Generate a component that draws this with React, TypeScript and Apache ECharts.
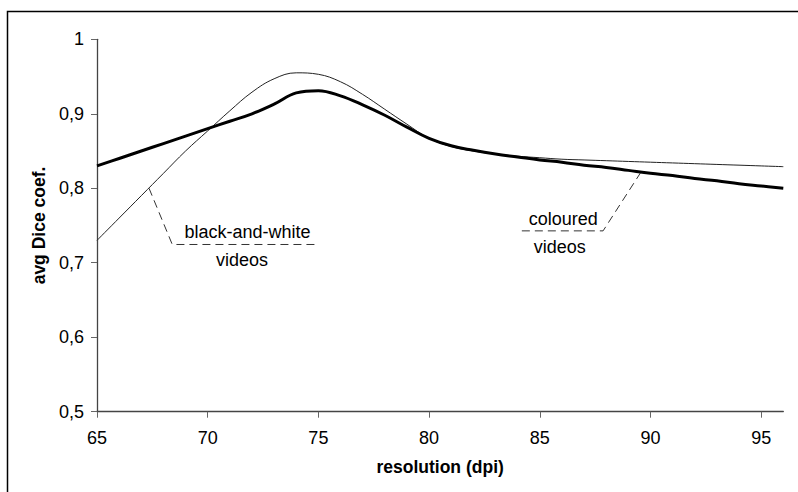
import React, { useEffect, useRef } from "react";
import * as echarts from "echarts";

const resolution = [65, 66, 67, 68, 69, 70, 71, 72, 73, 74, 75, 76, 77, 78, 79, 80, 81, 82, 83, 84, 85, 86, 87, 88, 89, 90, 91, 92, 93, 94, 95, 96];
const blackAndWhite = [0.73, 0.76, 0.79, 0.82, 0.85, 0.877, 0.904, 0.929, 0.947, 0.955, 0.953, 0.943, 0.926, 0.906, 0.886, 0.867, 0.856, 0.85, 0.846, 0.843, 0.841, 0.839, 0.838, 0.837, 0.836, 0.835, 0.834, 0.833, 0.832, 0.831, 0.83, 0.829];
const coloured = [0.83, 0.84, 0.85, 0.86, 0.87, 0.88, 0.89, 0.9, 0.913, 0.928, 0.931, 0.924, 0.912, 0.898, 0.882, 0.867, 0.857, 0.851, 0.846, 0.842, 0.838, 0.835, 0.831, 0.828, 0.824, 0.82, 0.817, 0.813, 0.81, 0.806, 0.803, 0.8];
const xTicks = [65, 70, 75, 80, 85, 90, 95];
const yTicks = [0.5, 0.6, 0.7, 0.8, 0.9, 1];

// annotation anchors in data coordinates
const bwLeader: [number, number][] = [[67.35, 0.8], [68.4, 0.7245], [74.85, 0.7245]];
const colLeader: [number, number][] = [[84.19, 0.7428], [87.86, 0.7428], [89.54, 0.8203]];
const bwText1: [number, number] = [71.8, 0.7415];
const bwText2: [number, number] = [71.55, 0.7035];
const colText1: [number, number] = [86.06, 0.7585];
const colText2: [number, number] = [85.9, 0.721];

const FONT = "'Liberation Sans', Arial, sans-serif";

export default function App() {
  const ref = useRef<HTMLDivElement>(null);
  useEffect(() => {
    if (!ref.current) return;
    const chart = echarts.init(ref.current, null, { renderer: "svg" });
    chart.setOption({
      animation: false,
      backgroundColor: "#fff",
      textStyle: { fontFamily: FONT },
      grid: { left: 97, top: 39.3, right: 14.7, bottom: 80.3, containLabel: false },
      xAxis: {
        type: "value",
        min: 65,
        max: 96,
        interval: 5,
        name: "resolution (dpi)",
        nameLocation: "middle",
        nameGap: 46,
        nameTextStyle: { fontFamily: FONT, fontWeight: "bold", fontSize: 17.5, color: "#000" },
        axisLine: { show: true, lineStyle: { color: "#444", width: 1.3 } },
        axisTick: { show: true, length: 6, lineStyle: { color: "#666" }, customValues: xTicks },
        axisLabel: { fontFamily: FONT, fontSize: 18, color: "#000", margin: 17, customValues: xTicks },
        splitLine: { show: false },
      },
      yAxis: {
        type: "value",
        min: 0.5,
        max: 1,
        interval: 0.1,
        name: "avg Dice coef.",
        nameLocation: "middle",
        nameGap: 48,
        nameRotate: 90,
        nameTextStyle: { fontFamily: FONT, fontWeight: "bold", fontSize: 17.5, color: "#000" },
        axisLine: { show: true, lineStyle: { color: "#444", width: 1.3 } },
        axisTick: { show: true, length: 6, lineStyle: { color: "#666" }, customValues: yTicks },
        axisLabel: {
          fontFamily: FONT,
          fontSize: 18,
          color: "#000",
          margin: 13,
          customValues: yTicks,
          formatter: (v: number) => (Math.abs(v - 1) < 1e-9 ? "1" : v.toFixed(1).replace(".", ",")),
        },
        splitLine: { show: false },
      },
      series: [
        {
          name: "black-and-white videos",
          type: "line",
          data: resolution.map((x, i) => [x, blackAndWhite[i]]),
          smooth: 0.4,
          showSymbol: false,
          lineStyle: { color: "#222", width: 1 },
          z: 2,
        },
        {
          name: "coloured videos",
          type: "line",
          data: resolution.map((x, i) => [x, coloured[i]]),
          smooth: 0.4,
          showSymbol: false,
          lineStyle: { color: "#000", width: 3 },
          z: 3,
        },
      ],
    });

    const px = (p: [number, number]) => chart.convertToPixel({ gridIndex: 0 }, p) as number[];
    const textStyle = { fill: "#000", fontFamily: FONT, fontSize: 18, textAlign: "center", textVerticalAlign: "middle" };
    chart.setOption({
      graphic: [
        {
          type: "rect",
          shape: { x: 7.5, y: 11.5, width: 820, height: 520 },
          style: { fill: "none", stroke: "#000", lineWidth: 1.5 },
          silent: true,
        },
        {
          type: "polyline",
          shape: { points: bwLeader.map(px) },
          style: { fill: "none", stroke: "#333", lineWidth: 1, lineDash: [8, 5] },
        },
        {
          type: "polyline",
          shape: { points: colLeader.map(px) },
          style: { fill: "none", stroke: "#333", lineWidth: 1, lineDash: [8, 5] },
        },
        { type: "text", x: px(bwText1)[0], y: px(bwText1)[1], style: { ...textStyle, text: "black-and-white" } },
        { type: "text", x: px(bwText2)[0], y: px(bwText2)[1], style: { ...textStyle, text: "videos" } },
        { type: "text", x: px(colText1)[0], y: px(colText1)[1], style: { ...textStyle, text: "coloured" } },
        { type: "text", x: px(colText2)[0], y: px(colText2)[1], style: { ...textStyle, text: "videos" } },
      ],
    });
    return () => chart.dispose();
  }, []);
  return <div ref={ref} style={{ width: 798, height: 492, position: "absolute", left: 0, top: 0 }} />;
}
